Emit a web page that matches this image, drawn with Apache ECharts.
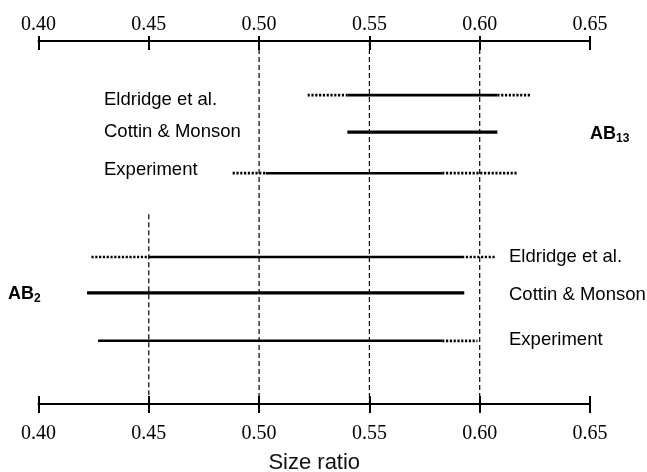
<!DOCTYPE html>
<html>
<head>
<meta charset="utf-8">
<script src="https://cdn.jsdelivr.net/npm/echarts@6/dist/echarts.min.js"></script>
<style>html,body{margin:0;padding:0;background:#fff;}#c{width:647px;height:472px;}</style>
</head>
<body>
<div id="c"></div>
<script>
// ---- data ----
const xTicks = [0.40, 0.45, 0.50, 0.55, 0.60, 0.65];
const rowNames = ['Eldridge et al.', 'Cottin & Monson', 'Experiment'];
const groups = ['AB13', 'AB2'];
// vertical level of each row (0 = top axis, 100 = bottom axis)
const rowLevels = [14.9, 25.1, 36.4, 59.5, 69.4, 82.6];
// solid ranges (size ratio) per row: AB13 x3, then AB2 x3
const solidRanges = [
  [0.540, 0.608], [0.540, 0.608], [0.503, 0.583],
  [0.450, 0.592], [0.422, 0.593], [0.427, 0.583]
];
// dotted ranges: [rowIndex, from, to]
const dottedRanges = [
  [0, 0.522, 0.540], [0, 0.608, 0.623],
  [2, 0.488, 0.503], [2, 0.583, 0.617],
  [3, 0.424, 0.450], [3, 0.592, 0.607],
  [5, 0.583, 0.599]
];
// dashed reference lines: [x, fromLevel, toLevel]
const refLines = [[0.45, 47.7, 100], [0.50, 0, 100], [0.55, 0, 100], [0.60, 0, 100]];

const rowWidths = [2.7, 3.3, 2.5];

const chart = echarts.init(document.getElementById('c'));
const series = [];
refLines.forEach(r => {
  series.push({type: 'line', xAxisIndex: 0, data: [[r[0], r[1]], [r[0], r[2]]], symbol: 'none', silent: true,
    lineStyle: {color: '#000', width: 1.2, type: [5, 3]}, z: 1});
});
solidRanges.forEach((r, i) => {
  series.push({type: 'line', xAxisIndex: 0, data: [[r[0], rowLevels[i]], [r[1], rowLevels[i]]], symbol: 'none', silent: true,
    lineStyle: {color: '#000', width: rowWidths[i % 3], type: 'solid', cap: 'butt'}, z: 3});
});
dottedRanges.forEach(d => {
  series.push({type: 'line', xAxisIndex: 0, data: [[d[1], rowLevels[d[0]]], [d[2], rowLevels[d[0]]]], symbol: 'none', silent: true,
    lineStyle: {color: '#000', width: 2.7, type: [2.2, 1.6], cap: 'butt'}, z: 3});
});

const axisBase = {type: 'value', min: 0.40, max: 0.65, interval: 0.05, splitLine: {show: false}};
const serifLabel = {fontFamily: 'Liberation Serif', fontSize: 20, color: '#000', formatter: v => v.toFixed(2)};

const rowText = (txt, x, y) => ({type: 'text', x: x, y: y, style: {text: txt, font: '18.5px "Liberation Sans"', fill: '#000', verticalAlign: 'middle'}});
const groupText = (main, sub, x, y) => ({type: 'text', x: x, y: y, style: {
  text: '{a|' + main + '}{b|' + sub + '}', verticalAlign: 'middle', fill: '#000',
  rich: {a: {font: 'bold 18px "Liberation Sans"', fill: '#000'}, b: {font: 'bold 12px "Liberation Sans"', fill: '#000', padding: [9, 0, 0, 0]}}
}});

chart.setOption({
  animation: false,
  grid: {left: 38.5, right: 57, top: 41, bottom: 68, containLabel: false, outerBoundsMode: 'none'},
  xAxis: [
    Object.assign({}, axisBase, {position: 'bottom', axisLine: {onZero: false, lineStyle: {color: '#000', width: 2}},
      axisTick: {inside: false, length: 9, lineStyle: {color: '#000', width: 2}},
      axisLabel: Object.assign({margin: 20}, serifLabel),
      name: 'Size ratio', nameLocation: 'middle', nameGap: 48,
      nameTextStyle: {fontFamily: 'Liberation Sans', fontSize: 22, color: '#111'}}),
    Object.assign({}, axisBase, {position: 'bottom', axisLine: {onZero: false, show: false},
      axisTick: {inside: true, length: 8, lineStyle: {color: '#000', width: 2}}, axisLabel: {show: false}}),
    Object.assign({}, axisBase, {position: 'top', axisLine: {onZero: false, lineStyle: {color: '#000', width: 2}},
      axisTick: {inside: false, length: 5, lineStyle: {color: '#000', width: 2}},
      axisLabel: Object.assign({margin: 6}, serifLabel)}),
    Object.assign({}, axisBase, {position: 'top', axisLine: {onZero: false, show: false},
      axisTick: {inside: true, length: 9, lineStyle: {color: '#000', width: 2}}, axisLabel: {show: false}})
  ],
  yAxis: {type: 'value', min: 0, max: 100, inverse: true, show: false},
  series: series,
  graphic: [
    rowText(rowNames[0], 104, 100),
    rowText(rowNames[1], 104, 132),
    rowText(rowNames[2], 104, 170),
    rowText(rowNames[0], 509, 257),
    rowText(rowNames[1], 509, 295),
    rowText(rowNames[2], 509, 340),
    groupText('AB', '13', 590, 134),
    groupText('AB', '2', 8, 294)
  ]
});
</script>
</body>
</html>
